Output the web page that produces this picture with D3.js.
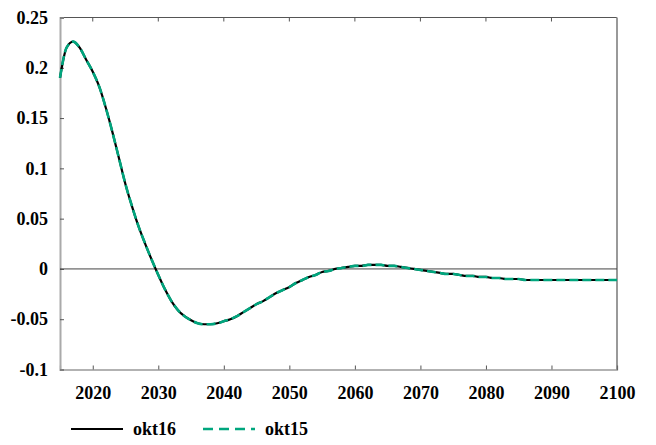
<!DOCTYPE html>
<html>
<head>
<meta charset="utf-8">
<script src="https://cdn.jsdelivr.net/npm/d3@7"></script>
<style>
  body { margin: 0; background: #fff; }
</style>
</head>
<body>
<div class="graph-container"></div>
<script>
// years, one per point
const years = d3.range(2015, 2101);

// okt16 run
const okt16 = [
  0.190, 0.220, 0.226, 0.220, 0.208, 0.196, 0.181, 0.160, 0.136, 0.110,
  0.084, 0.062, 0.042, 0.025, 0.009, -0.006, -0.020, -0.032, -0.041, -0.047,
  -0.051, -0.054, -0.055, -0.055, -0.054, -0.052, -0.050, -0.047, -0.043, -0.039,
  -0.035, -0.032, -0.028, -0.024, -0.021, -0.018, -0.014, -0.011, -0.008, -0.006,
  -0.003, -0.002, 0.000, 0.001, 0.002, 0.003, 0.003, 0.004, 0.004, 0.004,
  0.003, 0.003, 0.002, 0.001, 0.000, -0.001, -0.002, -0.003, -0.004, -0.005,
  -0.005, -0.006, -0.007, -0.007, -0.008, -0.008, -0.009, -0.009, -0.010, -0.010,
  -0.010, -0.011, -0.011, -0.011, -0.011, -0.011, -0.011, -0.011, -0.011, -0.011,
  -0.011, -0.011, -0.011, -0.011, -0.011, -0.011
];

// okt15 run (practically on top of okt16)
const okt15 = [
  0.190, 0.220, 0.226, 0.220, 0.208, 0.196, 0.181, 0.160, 0.136, 0.110,
  0.084, 0.062, 0.042, 0.025, 0.009, -0.006, -0.020, -0.032, -0.041, -0.047,
  -0.051, -0.054, -0.055, -0.055, -0.054, -0.052, -0.050, -0.047, -0.043, -0.039,
  -0.035, -0.032, -0.028, -0.024, -0.021, -0.018, -0.014, -0.011, -0.008, -0.006,
  -0.003, -0.002, 0.000, 0.001, 0.002, 0.003, 0.003, 0.004, 0.004, 0.004,
  0.003, 0.003, 0.002, 0.001, 0.000, -0.001, -0.002, -0.003, -0.004, -0.005,
  -0.005, -0.006, -0.007, -0.007, -0.008, -0.008, -0.009, -0.009, -0.010, -0.010,
  -0.010, -0.011, -0.011, -0.011, -0.011, -0.011, -0.011, -0.011, -0.011, -0.011,
  -0.011, -0.011, -0.011, -0.011, -0.011, -0.011
];

const xTicks = [2020, 2030, 2040, 2050, 2060, 2070, 2080, 2090, 2100];
const yTicks = [-0.1, -0.05, 0, 0.05, 0.1, 0.15, 0.2, 0.25];
const seriesNames = ['okt16', 'okt15'];

const dims = { width: 656, height: 445 };
const m = { left: 60, right: 39, top: 17.5, bottom: 75.5 };
const font = 'Liberation Serif';

const svg = d3.select('div.graph-container')
  .append('svg')
  .attr('width', dims.width)
  .attr('height', dims.height);

const x = d3.scaleLinear().domain([2015, 2100]).range([m.left, dims.width - m.right]);
const y = d3.scaleLinear().domain([-0.1, 0.25]).range([dims.height - m.bottom, m.top]);

// frame: top and right border
svg.append('line')
  .attr('x1', x(2015)).attr('x2', x(2100))
  .attr('y1', y(0.25)).attr('y2', y(0.25))
  .attr('stroke', '#555').attr('stroke-width', 1);
svg.append('line')
  .attr('x1', x(2100)).attr('x2', x(2100))
  .attr('y1', y(0.25)).attr('y2', y(-0.1))
  .attr('stroke', '#999').attr('stroke-width', 2);

// top ticks pointing down
svg.append('g')
  .selectAll('line')
  .data(xTicks.slice(0, -1))
  .enter().append('line')
  .attr('x1', d => x(d)).attr('x2', d => x(d))
  .attr('y1', y(0.25)).attr('y2', y(0.25) + 4)
  .attr('stroke', '#555');

// bottom axis
const xAxis = svg.append('g')
  .attr('transform', `translate(0, ${y(-0.1)})`)
  .attr('font-family', font)
  .attr('font-size', 18)
  .attr('font-weight', 'bold')
  .call(d3.axisBottom(x).tickValues(xTicks).tickSize(-4).tickPadding(17).tickFormat(d3.format('d')));
xAxis.attr('font-family', font).attr('font-size', 18);
xAxis.select('.domain').attr('stroke', '#666').attr('stroke-width', 1.2);
xAxis.selectAll('.tick line').attr('stroke', '#555');
xAxis.selectAll('.tick text').attr('fill', '#000');
xAxis.select('.tick:last-of-type line').remove();

// left axis
const yAxis = svg.append('g')
  .attr('transform', `translate(${x(2015)}, 0)`)
  .call(d3.axisLeft(y).tickValues(yTicks).tickSize(-4).tickPadding(12).tickFormat(d => String(+d.toFixed(2))));
yAxis.attr('font-family', font).attr('font-size', 18).attr('font-weight', 'bold');
yAxis.select('.domain').attr('stroke', '#aaa').attr('stroke-width', 2);
yAxis.selectAll('.tick line').attr('stroke', '#555');
yAxis.selectAll('.tick text').attr('fill', '#000');

// zero line
svg.append('line')
  .attr('x1', x(2015)).attr('x2', x(2100))
  .attr('y1', y(0)).attr('y2', y(0))
  .attr('stroke', '#444').attr('stroke-width', 1);

const line = d3.line()
  .curve(d3.curveMonotoneX)
  .x((d, i) => x(years[i]))
  .y(d => y(d));

svg.append('path')
  .datum(okt16)
  .attr('d', line)
  .attr('fill', 'none')
  .attr('stroke', '#000')
  .attr('stroke-width', 2.2);

svg.append('path')
  .datum(okt15)
  .attr('d', line)
  .attr('fill', 'none')
  .attr('stroke', '#00a67e')
  .attr('stroke-width', 2.6)
  .attr('stroke-dasharray', '9,4');

// legend
const legend = svg.append('g').attr('transform', 'translate(0, 429)');
const legendItems = [
  { name: seriesNames[0], x0: 71, color: '#000', dash: null, w: 2 },
  { name: seriesNames[1], x0: 203, color: '#00a67e', dash: '10,6', w: 2.5 }
];
legendItems.forEach(it => {
  legend.append('line')
    .attr('x1', it.x0).attr('x2', it.x0 + 52)
    .attr('y1', 0).attr('y2', 0)
    .attr('stroke', it.color)
    .attr('stroke-width', it.w)
    .attr('stroke-dasharray', it.dash);
  legend.append('text')
    .attr('x', it.x0 + 62)
    .attr('y', 6)
    .attr('font-family', font)
    .attr('font-weight', 'bold')
    .attr('font-size', 18)
    .text(it.name);
});
</script>
</body>
</html>
